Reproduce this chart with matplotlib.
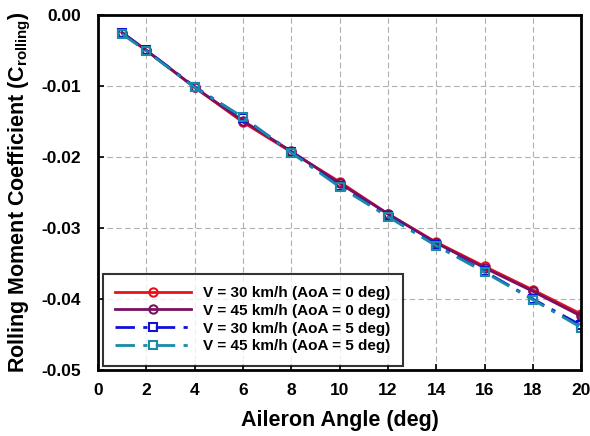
import matplotlib

matplotlib.use("Agg")

import matplotlib.pyplot as plt

plt.rcParams["font.family"] = ["Liberation Sans", "DejaVu Sans"]
plt.rcParams["font.weight"] = "bold"

aileron_deg = [1, 2, 4, 6, 8, 10, 12, 14, 16, 18, 20]
v30_aoa0 = [-0.0025, -0.0050, -0.0102, -0.0151, -0.0193, -0.0235, -0.0280, -0.0320, -0.0354, -0.0387, -0.0421]
v45_aoa0 = [-0.0025, -0.0050, -0.0102, -0.0149, -0.0192, -0.0237, -0.0280, -0.0321, -0.0356, -0.0389, -0.0424]
v30_aoa5 = [-0.0026, -0.0050, -0.0101, -0.0145, -0.0193, -0.0241, -0.0283, -0.0324, -0.0361, -0.0400, -0.0437]
v45_aoa5 = [-0.0027, -0.0051, -0.0102, -0.0144, -0.0194, -0.0242, -0.0284, -0.0325, -0.0362, -0.0401, -0.0440]

labels = [
    "V = 30 km/h (AoA = 0 deg)",
    "V = 45 km/h (AoA = 0 deg)",
    "V = 30 km/h (AoA = 5 deg)",
    "V = 45 km/h (AoA = 5 deg)",
]

fig = plt.figure(figsize=(5.9, 4.36), dpi=100)
ax = fig.add_axes([0.166, 0.151, 0.819, 0.815])

dashdot = (0, (7, 3, 1.5, 3))
ax.plot(aileron_deg, v30_aoa0, color="#e8101a", lw=2, marker="o", ms=6,
        mfc="none", mew=1.5, label=labels[0])
ax.plot(aileron_deg, v45_aoa0, color="#7a1060", lw=2, marker="o", ms=6,
        mfc="none", mew=1.5, label=labels[1])
ax.plot(aileron_deg, v30_aoa5, color="#1010d8", lw=2, ls=dashdot, marker="s", ms=6,
        mfc="none", mew=1.5, label=labels[2])
ax.plot(aileron_deg, v45_aoa5, color="#1a8aa8", lw=2, ls=dashdot, marker="s", ms=6,
        mfc="none", mew=1.5, label=labels[3])

ax.set_xlim(0, 20)
ax.set_ylim(-0.05, 0.0)
ax.set_xticks(range(0, 21, 2))
ax.set_yticks([0.0, -0.01, -0.02, -0.03, -0.04, -0.05])
ax.set_yticklabels(["0.00", "-0.01", "-0.02", "-0.03", "-0.04", "-0.05"])
ax.tick_params(direction="in", labelsize=12.5, width=1.2, length=4)
ax.tick_params(axis="x", pad=9)
ax.tick_params(axis="y", pad=12)
for lab in ax.get_xticklabels() + ax.get_yticklabels():
    lab.set_fontweight("bold")

ax.grid(True, color="#b0b0b0", ls=(0, (5, 3)), lw=0.8)
for sp in ax.spines.values():
    sp.set_linewidth(2)

ax.set_xlabel("Aileron Angle (deg)", fontsize=15.5, fontweight="bold", labelpad=9)
ax.set_ylabel(r"Rolling Moment Coefficient (C$_{\mathregular{rolling}}$)", fontsize=15.5,
              fontweight="bold", labelpad=6)

leg = ax.legend(loc="lower left", fontsize=11, frameon=True, fancybox=False,
                edgecolor="black", handlelength=5, borderpad=0.8, labelspacing=0.25,
                borderaxespad=0.3)
leg.get_frame().set_linewidth(1.5)
for t in leg.get_texts():
    t.set_fontweight("bold")

fig.savefig("out.png", dpi=100)
